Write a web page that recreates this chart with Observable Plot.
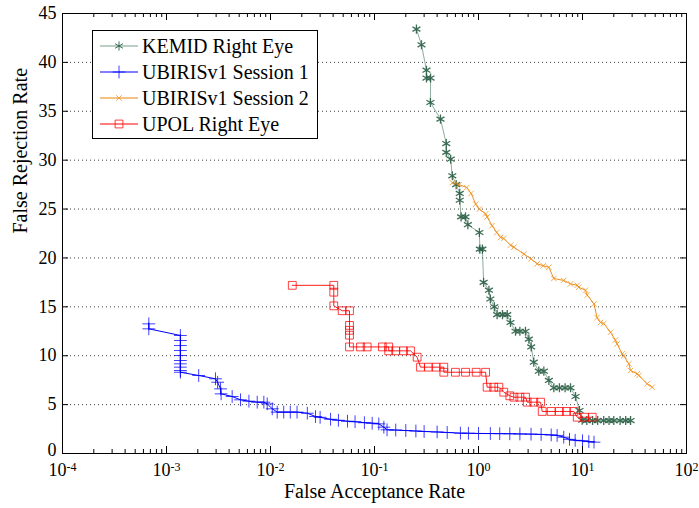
<!DOCTYPE html>
<html><head><meta charset="utf-8">
<script src="https://cdn.jsdelivr.net/npm/d3@7"></script>
<script src="https://cdn.jsdelivr.net/npm/@observablehq/plot@0.6"></script>
<style>
html,body{margin:0;padding:0;background:#fff;}
#wrap{position:relative;width:699px;height:508px;font-family:"Liberation Serif","Times New Roman",serif;}
#legend{position:absolute;left:92px;top:30px;width:226px;height:109px;border:1px solid #000;background:#fff;box-sizing:border-box;}
.row{position:absolute;left:0;height:26px;display:flex;align-items:center;}
.row svg{margin-left:7px;}
.row span{margin-left:2px;font-size:20px;color:#000;white-space:nowrap;}
</style></head>
<body><div id="wrap"><div id="chart"></div><div id="legend"></div></div>
<script>
// ---- data (FAR %, FRR %) ----
const kemidFAR = [0.253,0.283,0.316,0.316,0.346,0.345,0.431,0.49,0.49,0.54,0.56,0.61,0.66,0.66,0.68,0.75,0.79,1.02,1.03,1.09,1.12,1.26,1.3,1.42,1.51,1.7,1.89,2.03,2.27,2.5,2.83,3.05,3.21,3.40,3.8,4.25,4.75,5.3,6.0,6.8,7.67,8.57,9.36,9.93,11,12.5,14,16,18,20,23,26,29];
const kemidFRR = [43.4,41.8,39.2,38.4,38.4,35.9,34.2,31.7,30.8,30.1,28.4,27.5,26.6,25.9,24.2,24.2,23.4,22.6,20.9,20.9,17.5,16.7,15.8,15.0,14.2,14.2,14.2,13.4,12.5,12.5,12.5,11.7,10.9,9.34,8.42,8.42,7.47,6.72,6.72,6.72,6.72,5.83,4.4,3.4,3.37,3.37,3.37,3.37,3.37,3.37,3.37,3.37,3.37];

const ubiris1FAR = [6.76e-4,6.76e-4,1.36e-3,1.36e-3,1.36e-3,1.36e-3,1.36e-3,1.36e-3,1.36e-3,1.36e-3,1.36e-3,1.36e-3,2.04e-3,2.96e-3,3.1e-3,3.31e-3,3.35e-3,4.28e-3,5.15e-3,6.2e-3,7.45e-3,8.63e-3,9.3e-3,0.0104,0.0116,0.0134,0.0155,0.018,0.0226,0.0271,0.030,0.0378,0.045,0.055,0.065,0.08,0.095,0.110,0.123,0.132,0.16,0.2,0.25,0.3,0.4,0.5,0.67,0.8,1.0,1.3,1.6,2.0,2.5,3.2,4.0,5.0,5.7,6.6,7.5,8.5,10,11.5,12.9];
const ubiris1FRR = [13.26,12.75,12.07,11.56,11.04,10.53,10.02,9.51,9.17,8.83,8.49,8.31,7.98,7.64,7.29,6.61,6.1,5.83,5.49,5.35,5.25,5.25,5.08,4.57,4.23,4.23,4.23,4.23,4.12,3.78,3.7,3.5,3.4,3.3,3.25,3.15,3.1,3.03,2.69,2.42,2.4,2.35,2.3,2.25,2.2,2.15,2.08,2.07,2.05,2.04,2.03,2.02,2.0,1.98,1.95,1.9,1.85,1.67,1.45,1.35,1.3,1.22,1.16];

const ubiris2FAR = [0.56,0.65,0.77,0.85,0.94,1.02,1.17,1.21,1.35,1.5,1.63,1.75,2.03,2.19,2.73,3.2,3.67,4.2,4.74,5.3,6.6,7.67,8.9,9.2,10.7,11.1,12.9,13.8,14.9,16.0,18.6,20.7,21.5,24.1,24.9,27.9,29,33.6,34.8,41.9,46.8];
const ubiris2FRR = [27.7,27.5,27.2,26.6,25.5,25.0,24.5,24.2,23.3,22.6,22.1,22.0,21.3,21.1,20.4,19.9,19.4,19.2,19.05,17.9,17.7,17.35,17.2,17.0,16.7,16.2,15.3,13.9,13.4,13.3,12.4,11.6,11.2,10.2,10.0,9.17,8.49,8.15,7.98,7.13,6.78];

const upolFAR = [0.0162,0.0406,0.0406,0.0406,0.0489,0.0575,0.0575,0.0575,0.0575,0.0575,0.0733,0.085,0.119,0.137,0.137,0.16,0.19,0.222,0.257,0.277,0.33,0.39,0.464,0.464,0.6,0.75,0.95,1.17,1.21,1.4,1.57,1.75,2.0,2.19,2.5,2.83,2.94,3.4,3.95,4.1,5.0,6.0,7.0,8.26,8.9,10.5,12.4];
const upolFRR = [17.2,17.2,16.5,15.1,14.6,14.6,13.1,12.6,12.1,10.9,10.9,10.9,10.9,10.9,10.5,10.5,10.5,10.5,9.85,8.83,8.83,8.83,8.83,8.31,8.31,8.31,8.31,8.31,6.78,6.78,6.78,6.27,5.9,5.76,5.76,5.76,5.25,5.25,5.25,4.3,4.3,4.3,4.3,4.3,3.71,3.71,3.71];

const seriesNames = ["KEMID Right Eye","UBIRISv1 Session 1","UBIRISv1 Session 2","UPOL Right Eye"];
const xMajorTicks = [1e-4,1e-3,1e-2,1e-1,1e0,1e1,1e2];
const yTicks = [0,5,10,15,20,25,30,35,40,45];
const yGridTicks = [5,10,15,20,25,30,35,40];
const xLabel = "False Acceptance Rate";
const yLabel = "False Rejection Rate";

// ---- styles ----
const styles = [
  {line:"#2e6b4f", lineOpacity:0.55, marker:"#2a5e45", symbol:"asterisk", r:4.3, mOpacity:0.9, sw:1.3},
  {line:"#0000ff", lineOpacity:1, marker:"#0000ff", symbol:"plus", r:4.2, mOpacity:0.75, sw:1},
  {line:"#e8840a", lineOpacity:0.9, marker:"#ef8f1a", symbol:"times", r:2.6, mOpacity:0.75, sw:1},
  {line:"#ff0000", lineOpacity:0.9, marker:"#ff0000", symbol:"square", r:4.4, mOpacity:0.75, sw:1}
];
const fars = [kemidFAR, ubiris1FAR, ubiris2FAR, upolFAR];
const frrs = [kemidFRR, ubiris1FRR, ubiris2FRR, upolFRR];
const seriesData = fars.map((f,k)=>f.map((x,i)=>({series:seriesNames[k], far:x, frr:frrs[k][i]})));

const xMinor = [];
for (let e=-4;e<2;e++) for (let m=2;m<10;m++) xMinor.push(m*Math.pow(10,e));

const W=699,H=508,mL=62,mR=13,mT=13,mB=55;
const iw=W-mL-mR, ih=H-mT-mB;

const marks = [
  Plot.ruleY(yGridTicks, {y:d=>d, stroke:"#000", strokeOpacity:0.75, strokeDasharray:"1,3"})
];
seriesData.forEach((d,k)=>{
  const s=styles[k];
  marks.push(Plot.line(d,{x:"far",y:"frr",stroke:s.line,strokeOpacity:s.lineOpacity,strokeWidth:1,curve:"linear"}));
  marks.push(Plot.dot(d,{x:"far",y:"frr",symbol:s.symbol,r:s.r,stroke:s.marker,strokeOpacity:s.mOpacity,fill:"none",strokeWidth:s.sw}));
});
marks.push(
  Plot.frame({stroke:"#000"}),
  Plot.tickX(xMajorTicks,{x:d=>d, insetTop:ih-7, stroke:"#000"}),
  Plot.tickX(xMajorTicks,{x:d=>d, insetBottom:ih-7, stroke:"#000"}),
  Plot.tickX(xMinor,{x:d=>d, insetTop:ih-4, stroke:"#000"}),
  Plot.tickX(xMinor,{x:d=>d, insetBottom:ih-4, stroke:"#000"}),
  Plot.tickY(yTicks,{y:d=>d, insetRight:iw-6, stroke:"#000"}),
  Plot.tickY(yTicks,{y:d=>d, insetLeft:iw-6, stroke:"#000"}),
  Plot.axisX(xMajorTicks,{tickSize:0, tickPadding:10, fontSize:18, label:null,
    tickFormat:d=>"10|"+Math.round(Math.log10(d))}),
  Plot.axisY(yTicks.filter(d=>d>0),{tickSize:0, tickPadding:6, fontSize:18, label:null}),
  Plot.axisY(yTicks.filter(d=>d===0),{tickSize:0, tickPadding:6, fontSize:18, label:null, dy:-3}),
  Plot.text([xLabel],{frameAnchor:"bottom", dy:44, fontSize:20, text:d=>d}),
  Plot.text([yLabel],{frameAnchor:"left", dx:-42, rotate:-90, fontSize:20, text:d=>d})
);

const chart = Plot.plot({
  width:W, height:H, marginLeft:mL, marginRight:mR, marginTop:mT, marginBottom:mB,
  style:{fontFamily:'"Liberation Serif","Times New Roman",serif', background:"#fff", color:"#000", overflow:"visible"},
  x:{type:"log", domain:[1e-4,1e2], axis:null},
  y:{domain:[0,45], axis:null},
  marks
});
document.getElementById("chart").appendChild(chart);

// superscript exponents on x tick labels
d3.select(chart).selectAll("text").each(function(){
  const t=this.textContent;
  if (t.indexOf("|")>0 && this.childNodes.length<=1){
    const [base,exp]=t.split("|");
    const sel=d3.select(this);
    sel.text(base);
    sel.append("tspan").attr("dy","-0.45em").attr("font-size","12px").text(exp);
  }
});

// legend
const legend=d3.select("#legend");
seriesNames.forEach((name,k)=>{
  const s=styles[k];
  const row=legend.append("div").attr("class","row").style("top",(2+k*26)+"px");
  const svg=row.append("svg").attr("width",40).attr("height",16);
  svg.append("line").attr("x1",0).attr("x2",38).attr("y1",8).attr("y2",8)
     .attr("stroke",s.line).attr("stroke-opacity",Math.min(1,s.lineOpacity+0.1));
  const symMap={asterisk:d3.symbolAsterisk,plus:d3.symbolPlus,times:d3.symbolTimes,square:d3.symbolSquare};
  svg.append("path").attr("transform","translate(19,8)")
     .attr("d",d3.symbol(symMap[s.symbol],Math.PI*s.r*s.r)())
     .attr("fill","none").attr("stroke",s.marker).attr("stroke-opacity",s.mOpacity);
  row.append("span").text(name);
});
</script></body></html>
